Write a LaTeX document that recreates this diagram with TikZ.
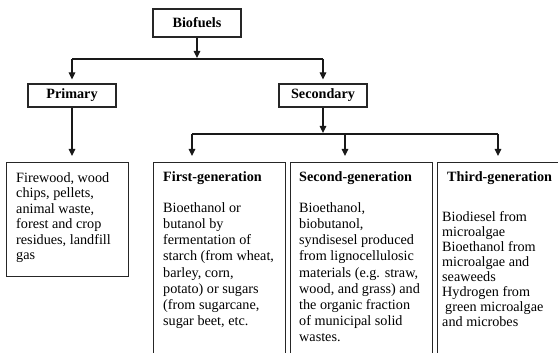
\documentclass[tikz,border=0pt]{standalone}
\usepackage{fontspec}
\setmainfont{Liberation Serif}
\usetikzlibrary{arrows.meta}
\newcommand\fstrut{\rule{0pt}{10pt}}
\begin{document}
\begin{tikzpicture}[x=1pt,y=1pt,
  box/.style={draw=black!85, line width=1.1pt, inner sep=0pt},
  title/.style={box, minimum width=88pt, font=\fontsize{14.2}{16}\selectfont\bfseries},
  arr/.style={draw=black!90, line width=1.1pt, -{Triangle[length=7pt,width=6.5pt]}},
  ln/.style={draw=black!90, line width=1.1pt},
  txt/.style={anchor=north west, inner sep=0pt, align=left, font=\fontsize{14.2}{16.2}\selectfont},
  txtp/.style={anchor=north west, inner sep=0pt, align=left, font=\fontsize{14.2}{15.5}\selectfont},
  txtb/.style={anchor=north west, inner sep=0pt, align=left, font=\fontsize{14.2}{15}\selectfont},
  head/.style={anchor=north west, inner sep=0pt, font=\fontsize{14.2}{16}\selectfont\bfseries}]
\clip (0,0) rectangle (558,-353);
\fill[white] (0,0) rectangle (558,-353);

% title boxes
\node[title, minimum height=28pt] (bio) at (197,-23) {Biofuels};
\node[title, minimum height=23pt] (prim) at (72,-95.5) {Primary};
\node[title, minimum height=23pt] (sec) at (323,-95.5) {Secondary};

% content boxes
\node[box, anchor=north west, minimum width=122pt, minimum height=114pt] (pc) at (6,-162) {};
\node[box, anchor=north west, minimum width=132pt, minimum height=205pt] (g1) at (153,-162) {};
\node[box, anchor=north west, minimum width=142pt, minimum height=205pt] (g2) at (290,-162) {};
\node[box, anchor=north west, minimum width=130pt, minimum height=205pt] (g3) at (437,-162) {};

% texts
\node[txtp] (tpc) at (16,-172) {\fstrut Firewood, wood\\chips, pellets,\\animal waste,\\forest and crop\\residues, landfill\\gas};

\node[head] (h1) at (163,-171) {\fstrut First-generation};
\node[txt] (t1) at (163,-202) {\fstrut Bioethanol or\\butanol by\\fermentation of\\starch (from wheat,\\barley, corn,\\potato) or sugars\\(from sugarcane,\\sugar beet, etc.};

\node[head] (h2) at (299,-171) {\fstrut Second-generation};
\node[txt] (t2) at (299,-202) {\fstrut Bioethanol,\\biobutanol,\\syndisesel produced\\from lignocellulosic\\materials (e.g. straw,\\wood, and grass) and\\the organic fraction\\of municipal solid\\wastes.};

\node[head] (h3) at (447,-171) {\fstrut Third-generation};
\node[txtb] (t3) at (442,-211) {\fstrut Biodiesel from\\microalgae\\Bioethanol from\\microalgae and\\seaweeds\\Hydrogen from\\\hspace{3pt}green microalgae\\and microbes};

% connectors
\coordinate (j0) at (197,-59);
\coordinate (jl) at (72,-59);
\coordinate (jr) at (323,-59);
\draw[arr] (bio.south) -- ([yshift=1pt]j0);
\draw[ln] (jl) -- (jr);
\draw[arr] (jl) -- ([yshift=4pt]prim.north);
\draw[arr] (jr) -- ([yshift=4pt]sec.north);

\draw[arr] (prim.south) -- ([yshift=6pt]prim.south |- pc.north);

\coordinate (k0) at (323,-134);
\coordinate (kl) at (192,-134);
\coordinate (km) at (345,-134);
\coordinate (kr) at (498,-134);
\draw[arr] (sec.south) -- ([yshift=1pt]k0);
\draw[ln] (kl) -- (kr);
\draw[arr] (kl) -- ([yshift=6pt]kl |- g1.north);
\draw[arr] (km) -- ([yshift=6pt]km |- g2.north);
\draw[arr] (kr) -- ([yshift=6pt]kr |- g3.north);
\end{tikzpicture}
\end{document}
